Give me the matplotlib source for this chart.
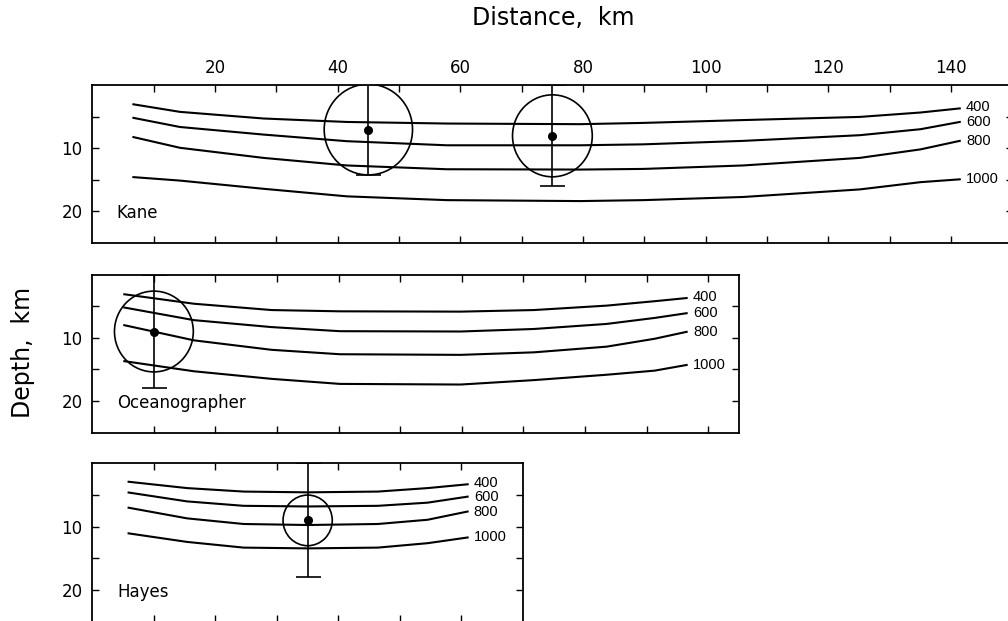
import numpy as np
import matplotlib
matplotlib.use("Agg")
import matplotlib.pyplot as plt
from matplotlib.patches import Ellipse

plt.rcParams['font.family'] = ['DejaVu Sans']

# contour levels drawn in every panel
levels = ['400', '600', '800', '1000']

# Kane
kane_x = [6.7, 14.3, 27.9, 41.5, 57.8, 79.5, 89.8, 106.1, 125.1, 135, 141.4]
kane_400 = [3.0, 4.2, 5.25, 5.8, 6.05, 6.15, 5.95, 5.5, 5.0, 4.3, 3.65]
kane_600 = [5.15, 6.6, 7.8, 8.85, 9.5, 9.5, 9.35, 8.8, 7.9, 6.95, 5.8]
kane_800 = [8.2, 9.9, 11.5, 12.7, 13.3, 13.35, 13.25, 12.7, 11.5, 10.15, 8.8]
kane_1000 = [14.55, 15.1, 16.4, 17.6, 18.2, 18.35, 18.2, 17.7, 16.5, 15.35, 14.9]
kane_evt_x = [45, 75]
kane_evt_y = [7, 8]
kane_evt_err = [7.2, 8]
kane_evt_r = [7.2, 6.5]

# Oceanographer
ocean_x = [5.2, 16.5, 29.1, 40.2, 59.8, 71.7, 83.5, 91.3, 96.5]
ocean_400 = [3.1, 4.6, 5.6, 5.8, 5.85, 5.6, 4.9, 4.2, 3.7]
ocean_600 = [5.2, 7.2, 8.3, 8.95, 9.0, 8.6, 7.8, 6.85, 6.1]
ocean_800 = [8.0, 10.4, 11.9, 12.6, 12.7, 12.3, 11.4, 10.15, 9.05]
ocean_1000 = [13.7, 15.3, 16.5, 17.3, 17.4, 16.7, 15.85, 15.2, 14.3]
ocean_evt_x = [10]
ocean_evt_y = [9]
ocean_evt_err = [9]
ocean_evt_r = [6.4]

# Hayes
hayes_x = [5.9, 15.4, 24.6, 35, 46.4, 54.5, 61.0]
hayes_400 = [2.9, 3.9, 4.45, 4.57, 4.45, 3.9, 3.3]
hayes_600 = [4.6, 6.0, 6.7, 6.8, 6.7, 6.2, 5.25]
hayes_800 = [7.0, 8.68, 9.57, 9.73, 9.57, 8.9, 7.6]
hayes_1000 = [11.05, 12.4, 13.3, 13.42, 13.3, 12.6, 11.7]
hayes_evt_x = [35]
hayes_evt_y = [9]
hayes_evt_err = [9]
hayes_evt_r = [4.0]

W, H = 1008, 621
fig = plt.figure(figsize=(W / 100, H / 100), dpi=100)


def panel(px_left, px_right, px_top, px_bottom, xmax, name, xs, curves,
          ex, ey, eerr, er, top_labels=False):
    ax = fig.add_axes([px_left / W, 1 - px_bottom / H,
                       (px_right - px_left) / W, (px_bottom - px_top) / H])
    ax.set_xlim(0, xmax)
    ax.set_ylim(25, 0)
    for sp in ax.spines.values():
        sp.set_linewidth(1.3)

    xt = np.arange(10, xmax, 10)
    ax.set_xticks(xt)
    ax.set_yticks([5, 10, 15, 20])
    ax.set_yticklabels(['', '10', '', '20'])
    ax.tick_params(direction='in', top=True, right=True, length=5, width=1,
                   labelsize=12, pad=7)
    if top_labels:
        ax.set_xticklabels([str(int(v)) if v % 20 == 0 else '' for v in xt])
        ax.tick_params(axis='x', labeltop=True, labelbottom=False, pad=6)
    else:
        ax.tick_params(axis='x', labelbottom=False)

    for lev, ys in zip(levels, curves):
        ax.plot(xs, ys, color='k', lw=1.5)
        ax.annotate(lev, (xs[-1], ys[-1]), xytext=(4.5, 1 if lev == '400' else 0),
                    textcoords='offset points', va='center', ha='left',
                    fontsize=10.5, family='Liberation Sans')

    for x, y, e, r in zip(ex, ey, eerr, er):
        ax.add_patch(Ellipse((x, y), 2 * r, 2 * r, fill=False,
                             color='k', lw=1.2))
    ax.errorbar(ex, ey, yerr=eerr, fmt='o', color='k', ms=5.5,
                capsize=9, elinewidth=1.2, capthick=1.2)

    ax.text(4, 20.3, name, fontsize=12, va='center', ha='left')
    return ax


panel(92.3, 1012.5, 85.4, 243, 150, 'Kane', kane_x,
      [kane_400, kane_600, kane_800, kane_1000],
      kane_evt_x, kane_evt_y, kane_evt_err, kane_evt_r, top_labels=True)
panel(92.3, 739, 274.7, 432.5, 105, 'Oceanographer', ocean_x,
      [ocean_400, ocean_600, ocean_800, ocean_1000],
      ocean_evt_x, ocean_evt_y, ocean_evt_err, ocean_evt_r)
panel(92.3, 523, 463.4, 621.7, 70, 'Hayes', hayes_x,
      [hayes_400, hayes_600, hayes_800, hayes_1000],
      hayes_evt_x, hayes_evt_y, hayes_evt_err, hayes_evt_r)

fig.text(553 / W, 1 - 18 / H, 'Distance,  km', fontsize=17,
         ha='center', va='center')
fig.text(23 / W, 1 - 352 / H, 'Depth,  km', fontsize=17, rotation=90,
         ha='center', va='center')

fig.savefig('out.png', dpi=100)
